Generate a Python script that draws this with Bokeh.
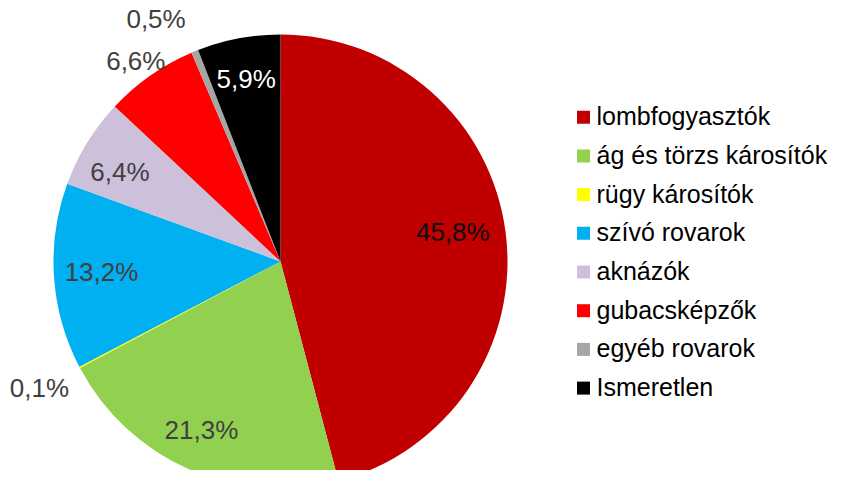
import math
from bokeh.plotting import figure
from bokeh.models import Range1d, ColumnDataSource
from bokeh.core.properties import value
from bokeh.embed import file_html
from bokeh.resources import INLINE

# ---- data ----
categories = ["lombfogyasztók", "ág és törzs károsítók", "rügy károsítók", "szívó rovarok",
              "aknázók", "gubacsképzők", "egyéb rovarok", "Ismeretlen"]
values = [45.8, 21.3, 0.1, 13.2, 6.4, 6.6, 0.5, 5.9]

# ---- style ----
colors = ["#C00000", "#92D050", "#FFFF00", "#00B0F0", "#CCC0DA", "#FF0000", "#A6A6A6", "#000000"]
label_colors = ["#0d0d0d", "#404040", "#404040", "#404040", "#404040", "#404040", "#404040", "#FFFFFF"]
label_rfac = [0.77, 0.82, 1.2, 0.79, 0.81, 1.09, 1.2, 0.82]
label_dang = [-2.3, 1.5, 0, 0.3, -2.4, -0.8, -5.0, 0]   # degrees tweak (clockwise)
FONT = "Liberation Sans"
R = 227
W, H = 835, 470
OFF = 0             # figure origin in picture pixels
CX, CY = 280, 261   # pie center in picture pixels

total = sum(values)
starts, ends = [], []
acc = 0.0
for v in values:
    starts.append(acc / total)
    acc += v
    ends.append(acc / total)

start_angle = [math.pi / 2 - e * 2 * math.pi for e in ends]
end_angle = [math.pi / 2 - s * 2 * math.pi for s in starts]

p = figure(width=W, height=H, output_backend="svg", toolbar_location=None,
           x_range=Range1d(OFF - CX, OFF + W - CX), y_range=Range1d(CY - OFF - H, CY - OFF),
           x_axis_location=None, y_axis_location=None, min_border=0)
p.grid.visible = False
p.outline_line_color = None
p.background_fill_color = "white"
p.border_fill_color = "white"

src = ColumnDataSource(dict(start=start_angle, end=end_angle, color=colors))
p.wedge(x=0, y=0, radius=R, start_angle="start", end_angle="end", direction="anticlock",
        fill_color="color", line_color=None, source=src)

# data labels
lx, ly, lt = [], [], []
for i, v in enumerate(values):
    mid = (starts[i] + ends[i]) / 2 * 360 + label_dang[i]
    a = math.radians(mid)
    r = R * label_rfac[i]
    lx.append(r * math.sin(a))
    ly.append(r * math.cos(a))
    lt.append(f"{v:.1f}".replace(".", ",") + "%")
p.text(x=lx, y=ly, text=lt, text_color=label_colors, text_align="center",
       text_baseline="middle", text_font=value(FONT), text_font_size="26px")

# legend (manual)
LEG_SQ_X = 583 - CX
LEG_TXT_X = 596 - CX
LEG_Y0 = CY - 116.7
LEG_DY = 38.7
sq_y = [LEG_Y0 - i * LEG_DY for i in range(len(categories))]
p.rect(x=[LEG_SQ_X] * len(categories), y=sq_y, width=13, height=13,
       fill_color=colors, line_color=None)
p.text(x=[LEG_TXT_X] * len(categories), y=[y + 1 for y in sq_y], text=categories,
       text_color="#000000", text_align="left", text_baseline="middle",
       text_font=value(FONT), text_font_size="25px")

open("out.html", "w").write(file_html(p, INLINE))
